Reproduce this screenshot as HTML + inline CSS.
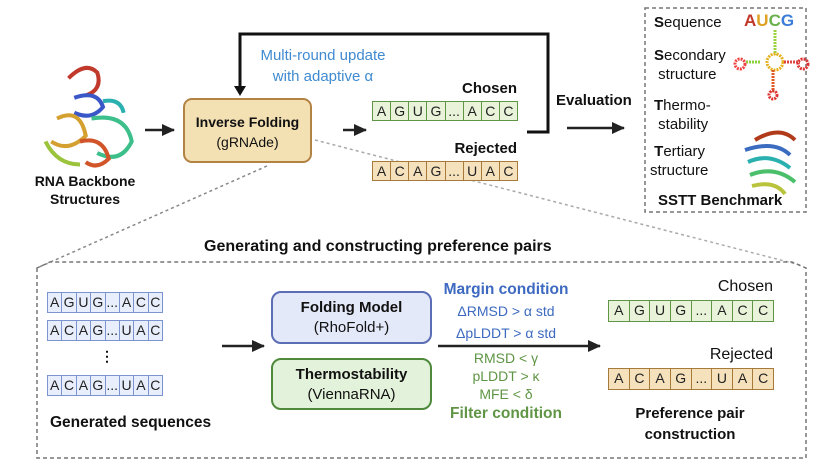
<!DOCTYPE html>
<html><head><meta charset="utf-8"><style>
body{margin:0;width:822px;height:474px;background:#fff;position:relative;overflow:hidden;font-family:"Liberation Sans",sans-serif;color:#111}
.a{position:absolute}
.b{font-weight:bold}
.seq{position:absolute;display:flex;height:18px;border:1.5px solid}
.seq span{flex:1;border-right:1.5px solid;text-align:center;font-size:14px;line-height:18px;color:#222}
.seq span:last-child{border-right:none}
.g{border-color:#5f9545;background:#e8f3d9}.g span{border-color:#5f9545}
.o{border-color:#a87a3a;background:#f5e2bd}.o span{border-color:#a87a3a}
.bl{border-color:#7b93cf;background:#e8eefb}.bl span{border-color:#7b93cf}
.c{text-align:center}
</style></head><body>
<svg class="a" style="left:0;top:0" width="822" height="474">
<defs><marker id="ar" markerUnits="userSpaceOnUse" markerWidth="14" markerHeight="14" refX="12" refY="7" orient="auto"><path d="M0,1 L13,7 L0,13z" fill="#222"/></marker></defs>
<g fill="none" stroke-width="3.5" transform="translate(-12,-8) scale(1.15)">
<path d="M70,75 Q85,60 95,70 Q100,85 85,90" stroke="#c0392b"/>
<path d="M75,92 Q95,85 100,100 Q90,112 75,105" stroke="#3a57c8"/>
<path d="M60,110 Q80,100 85,125 Q70,140 55,130" stroke="#d4a030"/>
<path d="M90,110 Q120,105 125,130 Q115,150 95,140" stroke="#3cbf8a"/>
<path d="M50,130 Q60,150 80,150" stroke="#9bc43c"/>
<path d="M80,130 Q100,125 105,145 Q95,155 85,148" stroke="#d2552a"/>
<path d="M100,95 Q115,92 118,105" stroke="#2bb0b0"/>
</g>
<line x1="145" y1="130" x2="174" y2="130" stroke="#222" stroke-width="2.5" marker-end="url(#ar)"/>
<line x1="343" y1="130" x2="366" y2="130" stroke="#222" stroke-width="2.5" marker-end="url(#ar)"/>
<polyline points="527,132 548,132 548,34 240,34 240,88" fill="none" stroke="#111" stroke-width="3"/>
<path d="M234,86 L246,86 L240,96z" fill="#111"/>
<line x1="567" y1="128" x2="624" y2="128" stroke="#222" stroke-width="2.5" marker-end="url(#ar)"/>
<rect x="645" y="8" width="161" height="204" fill="none" stroke="#777" stroke-width="1.5" stroke-dasharray="4,3"/>
<line x1="267" y1="166" x2="37" y2="268" stroke="#888" stroke-width="1.5" stroke-dasharray="3,3"/>
<line x1="315" y1="140" x2="800" y2="265" stroke="#aaa" stroke-width="1.5" stroke-dasharray="3,3"/>
<path d="M37,268 L37,458 L806,458 L806,268 L792,262 L50,262 Z" fill="none" stroke="#777" stroke-width="1.5" stroke-dasharray="4,3"/>
<line x1="222" y1="346" x2="264" y2="346" stroke="#222" stroke-width="2.5" marker-end="url(#ar)"/>
<line x1="438" y1="346" x2="600" y2="346" stroke="#222" stroke-width="2.5" marker-end="url(#ar)"/>
<g fill="none" stroke-width="3" stroke-dasharray="2,1">
<path d="M775,30 L775,55" stroke="#9bd23c"/><circle cx="775" cy="62" r="8" stroke="#e6b020"/>
<path d="M760,62 L745,62" stroke="#8dd03c"/><circle cx="740" cy="64" r="5" stroke="#e44"/>
<path d="M784,62 L800,62" stroke="#d44"/><circle cx="803" cy="64" r="5" stroke="#d33"/>
<path d="M773,70 L773,92" stroke="#e05a20"/><circle cx="773" cy="95" r="4" stroke="#d33"/>
</g>
<g fill="none" stroke-width="4">
<path d="M755,140 Q780,125 795,140" stroke="#b03a1a"/>
<path d="M745,150 Q775,140 790,155" stroke="#3b6cc0"/>
<path d="M748,162 Q770,152 790,168" stroke="#2bb0b0"/>
<path d="M750,175 Q775,165 795,182" stroke="#4cbf6a"/>
<path d="M752,186 Q775,180 785,194" stroke="#b9c43c"/>
</g>
</svg>
<div class="a b c" style="left:20px;top:172px;width:130px;font-size:14px;line-height:18px">RNA Backbone<br>Structures</div>
<div class="a c" style="left:183px;top:98px;width:129px;height:65px;background:#f3e0b3;border:2px solid #b38344;border-radius:9px;box-sizing:border-box;font-size:14px;line-height:20px;padding-top:12px"><b>Inverse Folding</b><br>(gRNAde)</div>
<div class="a c" style="left:255px;top:45px;width:136px;font-size:15px;line-height:21px;color:#3f8ad0">Multi-round update<br>with adaptive α</div>
<div class="a b" style="left:420px;top:80px;width:97px;text-align:right;font-size:15px">Chosen</div>
<div class="seq g" style="left:372px;top:101px;width:144px"><span>A</span><span>G</span><span>U</span><span>G</span><span>...</span><span>A</span><span>C</span><span>C</span></div>
<div class="a b" style="left:420px;top:140px;width:97px;text-align:right;font-size:15px">Rejected</div>
<div class="seq o" style="left:372px;top:161px;width:144px"><span>A</span><span>C</span><span>A</span><span>G</span><span>...</span><span>U</span><span>A</span><span>C</span></div>
<div class="a b" style="left:556px;top:92px;font-size:15px">Evaluation</div>
<div class="a" style="left:654px;top:14px;font-size:15px;line-height:18px"><b>S</b>equence</div>
<div class="a b" style="left:744px;top:11px;font-size:17px"><span style="color:#c0392b">A</span><span style="color:#e0a020">U</span><span style="color:#6ab04c">C</span><span style="color:#3b7dd8">G</span></div>
<div class="a" style="left:654px;top:46px;font-size:15px;line-height:19px"><b>S</b>econdary<br>&nbsp;structure</div>
<div class="a" style="left:654px;top:96px;font-size:15px;line-height:19px"><b>T</b>hermo-<br>&nbsp;stability</div>
<div class="a" style="left:650px;top:142px;font-size:15px;line-height:19px">&nbsp;<b>T</b>ertiary<br>structure</div>
<div class="a b" style="left:658px;top:192px;font-size:15px">SSTT Benchmark</div>
<div class="a b" style="left:204px;top:238px;font-size:16px">Generating and constructing preference pairs</div>
<div class="seq bl" style="left:47px;top:292px;width:114px;height:19px"><span>A</span><span>G</span><span>U</span><span>G</span><span>...</span><span>A</span><span>C</span><span>C</span></div>
<div class="seq bl" style="left:47px;top:320px;width:114px;height:19px"><span>A</span><span>C</span><span>A</span><span>G</span><span>...</span><span>U</span><span>A</span><span>C</span></div>
<div class="a b" style="left:100px;top:348px;font-size:14px">⋮</div>
<div class="seq bl" style="left:47px;top:375px;width:114px;height:19px"><span>A</span><span>C</span><span>A</span><span>G</span><span>...</span><span>U</span><span>A</span><span>C</span></div>
<div class="a b" style="left:50px;top:414px;font-size:15.5px">Generated sequences</div>
<div class="a c" style="left:271px;top:291px;width:161px;height:53px;background:#e4e9f9;border:2px solid #5a6db5;border-radius:10px;box-sizing:border-box;font-size:15px;line-height:20px;padding-top:5px"><b>Folding Model</b><br>(RhoFold+)</div>
<div class="a c" style="left:271px;top:358px;width:161px;height:52px;background:#e3f2db;border:2px solid #4f8a3c;border-radius:10px;box-sizing:border-box;font-size:15px;line-height:20px;padding-top:5px"><b>Thermostability</b><br>(ViennaRNA)</div>
<div class="a c" style="left:426px;top:279px;width:160px;font-size:15.5px;line-height:22px;color:#3d6ac0"><b>Margin condition</b><br><span style="font-size:14px;line-height:20px">ΔRMSD &gt; α std<br>ΔpLDDT &gt; α std</span></div>
<div class="a c" style="left:426px;top:349px;width:160px;font-size:14px;line-height:18px;color:#5f9545">RMSD &lt; γ<br>pLDDT &gt; κ<br>MFE &lt; δ<br><b style="font-size:15.5px;line-height:22px">Filter condition</b></div>
<div class="a" style="left:670px;top:278px;width:103px;text-align:right;font-size:16px">Chosen</div>
<div class="seq g" style="left:608px;top:300px;width:164px;height:20px"><span>A</span><span>G</span><span>U</span><span>G</span><span>...</span><span>A</span><span>C</span><span>C</span></div>
<div class="a" style="left:670px;top:346px;width:103px;text-align:right;font-size:16px">Rejected</div>
<div class="seq o" style="left:608px;top:368px;width:164px;height:20px"><span>A</span><span>C</span><span>A</span><span>G</span><span>...</span><span>U</span><span>A</span><span>C</span></div>
<div class="a b c" style="left:610px;top:403px;width:160px;font-size:15px;line-height:21px">Preference pair<br>construction</div>
</body></html>
